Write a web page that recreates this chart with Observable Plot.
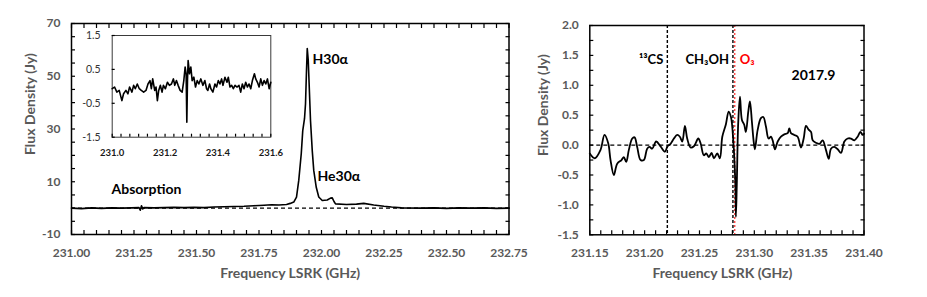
<!DOCTYPE html>
<html>
<head>
<meta charset="utf-8">
<script src="https://cdn.jsdelivr.net/npm/d3@7"></script>
<script src="https://cdn.jsdelivr.net/npm/@observablehq/plot@0.6"></script>
<style>
  body { margin: 0; background: #fff; }
  #wrap { position: relative; width: 927px; height: 297px; background: #fff; overflow: hidden; }
  #wrap > svg { position: absolute; }
</style>
</head>
<body>
<div id="wrap"></div>
<script>
// ---------------- data ----------------
// Left panel: full spectrum [frequency GHz, flux Jy]
const mainSpectrum = [
  [231.00, 0.0], [231.04, -0.2], [231.08, 0.1], [231.12, -0.1], [231.16, 0.1], [231.20, 0.0],
  [231.24, 0.1], [231.27, 0.2], [231.275, -0.8], [231.28, 0.9], [231.285, -0.3], [231.29, 0.2],
  [231.33, 0.1], [231.37, 0.2], [231.41, 0.3], [231.45, 0.2], [231.49, 0.3], [231.53, 0.2],
  [231.57, 0.4], [231.61, 0.5], [231.65, 0.6], [231.69, 0.7], [231.73, 0.9], [231.77, 1.1],
  [231.80, 1.3], [231.83, 1.2], [231.86, 1.4], [231.875, 1.8], [231.889, 2.3], [231.900, 4.2],
  [231.909, 10.5], [231.919, 20.6], [231.925, 29.4], [231.932, 33.9], [231.936, 39.5],
  [231.940, 52.2], [231.943, 60.5], [231.947, 56.0], [231.951, 45.9], [231.956, 33.2],
  [231.963, 21.8], [231.969, 14.3], [231.979, 7.9], [231.989, 4.2], [232.003, 2.9],
  [232.023, 3.1], [232.036, 3.8], [232.043, 3.9], [232.050, 2.5], [232.056, 1.6],
  [232.10, 1.4], [232.14, 1.5], [232.169, 1.8], [232.209, 1.2], [232.25, 0.7], [232.28, 0.4],
  [232.32, 0.1], [232.40, 0.0], [232.45, 0.1], [232.50, -0.1], [232.55, 0.1], [232.60, 0.0],
  [232.65, 0.1], [232.70, -0.1], [232.75, 0.0]
];

// Inset: 231.0 - 231.6 GHz
const insetSpectrum = [
  [231.000,-0.07],[231.0089,-0.02],[231.0177,-0.17],[231.0266,-0.12],[231.0367,-0.42],[231.0430,-0.22],
  [231.0519,-0.12],[231.0595,-0.22],[231.0658,-0.02],[231.0747,-0.17],[231.0810,0.03],[231.0873,-0.07],
  [231.0949,0.07],[231.1025,-0.07],[231.1101,-0.12],[231.1190,-0.17],[231.1278,-0.12],[231.1354,0.07],
  [231.1430,0.17],[231.1481,-0.07],[231.1532,0.22],[231.1608,-0.12],[231.1658,-0.02],[231.1709,-0.42],
  [231.1759,-0.12],[231.1823,0.03],[231.1886,-0.17],[231.1937,0.03],[231.2013,-0.07],[231.2089,0.12],
  [231.2165,0.03],[231.2241,0.07],[231.2316,0.22],[231.2367,0.03],[231.2430,0.17],[231.2494,0.03],
  [231.2570,-0.12],[231.2646,-0.17],[231.2709,0.17],[231.2759,0.57],[231.2797,0.37],[231.2823,-1.06],
  [231.2848,0.17],[231.2873,0.76],[231.2924,0.37],[231.2975,0.57],[231.3025,0.17],[231.3089,0.27],
  [231.3152,-0.02],[231.3215,0.17],[231.3278,0.07],[231.3354,0.22],[231.3430,0.03],[231.3506,0.17],
  [231.3570,-0.07],[231.3620,-0.12],[231.3684,0.07],[231.3734,-0.07],[231.3810,-0.17],[231.3886,0.07],
  [231.3949,-0.02],[231.4013,0.17],[231.4076,0.07],[231.4139,0.22],[231.4190,0.03],[231.4266,0.27],
  [231.4342,0.12],[231.4392,0.27],[231.4456,-0.02],[231.4519,0.03],[231.4582,-0.07],[231.4646,0.03],
  [231.4722,-0.02],[231.4797,0.03],[231.4861,-0.17],[231.4924,0.07],[231.4987,-0.07],[231.5051,0.12],
  [231.5114,-0.02],[231.5177,0.07],[231.5241,-0.07],[231.5304,0.17],[231.5380,0.37],[231.5430,0.22],
  [231.5494,0.12],[231.5557,-0.02],[231.5620,0.22],[231.5684,0.03],[231.5747,0.17],[231.5810,0.07],
  [231.5873,0.22],[231.5937,-0.07],[231.6000,0.12]
];

// Right panel: 231.15 - 231.40 GHz
const zoomSpectrum = [
  [231.1500,-0.14],[231.1546,-0.22],[231.1598,-0.08],[231.1634,0.17],[231.1668,0.03],[231.1689,-0.25],
  [231.1719,-0.50],[231.1750,-0.31],[231.1789,-0.25],[231.1810,-0.20],[231.1832,-0.28],[231.1856,-0.08],
  [231.1887,0.11],[231.1908,0.13],[231.1932,-0.03],[231.1963,-0.25],[231.1993,-0.25],[231.2023,-0.06],
  [231.2045,-0.03],[231.2069,-0.06],[231.2105,0.06],[231.2145,-0.02],[231.2185,-0.11],[231.2209,-0.02],
  [231.2236,0.02],[231.2267,0.11],[231.2297,0.17],[231.2321,0.14],[231.2343,0.06],[231.2367,0.32],
  [231.2388,0.11],[231.2419,-0.04],[231.2449,-0.02],[231.2489,0.11],[231.2510,0.03],[231.2540,-0.17],
  [231.2562,-0.14],[231.2586,-0.20],[231.2610,-0.13],[231.2632,-0.22],[231.2662,-0.14],[231.2686,-0.22],
  [231.2708,0.14],[231.2741,0.35],[231.2766,0.56],[231.2787,0.47],[231.2808,0.08],[231.2826,-0.59],
  [231.2832,-1.20],[231.2841,-0.59],[231.2853,0.36],[231.2869,0.81],[231.2887,0.42],[231.2908,0.34],
  [231.2923,0.22],[231.2945,0.56],[231.2960,0.73],[231.2978,0.39],[231.2993,0.08],[231.3005,-0.07],
  [231.3030,0.25],[231.3060,0.45],[231.3082,0.47],[231.3106,0.31],[231.3130,0.11],[231.3152,0.14],
  [231.3167,0.08],[231.3188,-0.07],[231.3213,0.06],[231.3243,0.14],[231.3273,0.18],[231.3304,0.20],
  [231.3319,0.28],[231.3334,0.20],[231.3364,0.17],[231.3395,0.14],[231.3425,-0.04],[231.3450,0.11],
  [231.3471,0.32],[231.3495,0.26],[231.3517,0.22],[231.3532,0.08],[231.3562,0.04],[231.3593,0.02],
  [231.3623,0.08],[231.3653,-0.08],[231.3678,-0.23],[231.3699,-0.06],[231.3729,-0.03],[231.3760,-0.07],
  [231.3790,-0.13],[231.3821,0.06],[231.3851,0.11],[231.3881,0.11],[231.3912,0.08],[231.3942,0.14],
  [231.3967,0.22],[231.3988,0.17],[231.4000,0.19]
];

// Line identifications (right panel)
const lineIds = [
  {freq: 231.2207, name: "¹³CS", color: "black", side: "left"},
  {freq: 231.2805, name: "CH₃OH", color: "black", side: "left"},
  {freq: 231.2822, name: "O₃", color: "red", side: "right"}
];

// Tick labels
const leftXTicks = [231.00, 231.25, 231.50, 231.75, 232.00, 232.25, 232.50, 232.75];
const leftYTicks = [-10, 10, 30, 50, 70];
const insetXTicks = [231.0, 231.2, 231.4, 231.6];
const insetYTicks = [-1.5, -0.5, 0.5, 1.5];
const rightXTicks = [231.15, 231.20, 231.25, 231.30, 231.35, 231.40];
const rightYTicks = [-1.5, -1.0, -0.5, 0.0, 0.5, 1.0, 1.5, 2.0];

// ---------------- helpers ----------------
const FONT = "Lato, 'Noto Sans', sans-serif";
const GRAY = "#595959";
const range = (a, b, step) => d3.range(0, Math.round((b - a) / step) + 1).map(i => +(a + i * step).toFixed(6));

function inTicksX(values, anchor, size = 4) {
  return Plot.axisX(values, {anchor, tickSize: -size, tickFormat: () => "", label: null, stroke: "black", strokeWidth: 1.2});
}
function inTicksY(values, anchor, size = 4) {
  return Plot.axisY(values, {anchor, tickSize: -size, tickFormat: () => "", label: null, stroke: "black", strokeWidth: 1.2});
}
const toObj = arr => arr.map(([f, v]) => ({f, v}));
const annot = {fill: "black", fontWeight: "bold", fontSize: 14, textAnchor: "start", lineAnchor: "middle"};
const title = {fill: GRAY, fontWeight: "bold", fontSize: 14, textAnchor: "middle", lineAnchor: "middle"};

const wrap = document.getElementById("wrap");
function place(svg, left, top) {
  svg.style.left = left + "px";
  svg.style.top = top + "px";
  wrap.appendChild(svg);
}

// ---------------- left panel ----------------
const leftPlot = Plot.plot({
  width: 520, height: 297,
  marginLeft: 71, marginRight: 11.5, marginTop: 23, marginBottom: 63,
  x: {domain: [231.0, 232.75]},
  y: {domain: [-10, 70]},
  style: {fontFamily: FONT, background: "transparent", overflow: "visible"},
  marks: [
    Plot.ruleY([0], {stroke: "black", strokeWidth: 1.2, strokeDasharray: "4,3"}),
    Plot.line(toObj(mainSpectrum), {x: "f", y: "v", stroke: "black", strokeWidth: 1.6}),
    Plot.frame({stroke: "black", strokeWidth: 1.5}),
    inTicksX(range(231.0, 232.75, 0.05), "bottom"),
    inTicksX(range(231.0, 232.75, 0.05), "top"),
    inTicksY(range(-10, 70, 5), "left"),
    inTicksY(range(-10, 70, 5), "right"),
    Plot.axisX(leftXTicks, {anchor: "bottom", tickSize: 0, tickPadding: 14, tickFormat: d => d.toFixed(2), fill: GRAY, fontWeight: "bold", fontSize: 12, label: null}),
    Plot.axisY(leftYTicks, {anchor: "left", tickSize: 0, tickPadding: 11, tickFormat: d => String(d), fill: GRAY, fontWeight: "bold", fontSize: 12, label: null}),
    Plot.text(["Flux Density (Jy)"], {frameAnchor: "left", rotate: -90, dx: -41, dy: -25, ...title}),
    Plot.text(["Frequency LSRK (GHz)"], {frameAnchor: "bottom", dy: 39, ...title}),
    Plot.text(["H30α"], {frameAnchor: "top-left", dx: 241, dy: 36, ...annot}),
    Plot.text(["He30α"], {frameAnchor: "top-left", dx: 246, dy: 153, ...annot}),
    Plot.text(["Absorption"], {frameAnchor: "top-left", dx: 40, dy: 166, ...annot})
  ]
});
place(leftPlot, 0, 0);

// ---------------- inset ----------------
const insetPlot = Plot.plot({
  width: 200, height: 135,
  marginLeft: 31.7, marginRight: 9.7, marginTop: 7, marginBottom: 26.3,
  x: {domain: [231.0, 231.6]},
  y: {domain: [-1.5, 1.5]},
  style: {fontFamily: FONT, background: "transparent", overflow: "visible"},
  marks: [
    Plot.frame({stroke: "#3a3a3a", strokeWidth: 1}),
    Plot.line(toObj(insetSpectrum), {x: "f", y: "v", stroke: "black", strokeWidth: 1.6}),
    inTicksX(range(231.0, 231.6, 0.2 / 6), "bottom", 3),
    inTicksY(range(-1.5, 1.5, 1), "left", 3),
    Plot.axisX(insetXTicks, {anchor: "bottom", tickSize: 0, tickPadding: 12, tickFormat: d => d.toFixed(1), fill: "#1a1a1a", fontWeight: "bold", fontSize: 9.5, label: null}),
    Plot.axisY(insetYTicks, {anchor: "left", tickSize: 0, tickPadding: 11.5, tickFormat: d => d.toFixed(1), fill: "#333", fontSize: 10.5, label: null})
  ]
});
place(insetPlot, 80, 28);

// ---------------- right panel ----------------
const rightPlot = Plot.plot({
  width: 407, height: 297,
  marginLeft: 69.3, marginRight: 63.5, marginTop: 25, marginBottom: 62.7,
  x: {domain: [231.15, 231.40]},
  y: {domain: [-1.5, 2.0]},
  style: {fontFamily: FONT, background: "transparent", overflow: "visible"},
  marks: [
    Plot.ruleY([0], {stroke: "black", strokeWidth: 1.3, strokeDasharray: "4,3"}),
    Plot.ruleX(lineIds.filter(d => d.color === "black"), {x: "freq", stroke: "black", strokeWidth: 1.4, strokeDasharray: "3,2"}),
    Plot.ruleX(lineIds.filter(d => d.color === "red"), {x: "freq", stroke: "red", strokeWidth: 1, strokeDasharray: "2,2"}),
    Plot.line(toObj(zoomSpectrum), {x: "f", y: "v", stroke: "black", strokeWidth: 1.8, curve: "catmull-rom"}),
    Plot.frame({stroke: "black", strokeWidth: 1.5}),
    inTicksX(range(231.15, 231.40, 0.01), "bottom"),
    inTicksY(range(-1.5, 2.0, 0.25), "left"),
    inTicksY(range(-1.5, 2.0, 0.25), "right"),
    Plot.axisX(rightXTicks, {anchor: "bottom", tickSize: 0, tickPadding: 14, tickFormat: d => d.toFixed(2), fill: GRAY, fontWeight: "bold", fontSize: 12, label: null}),
    Plot.axisY(rightYTicks, {anchor: "left", tickSize: 0, tickPadding: 11, tickFormat: d => d.toFixed(1), fill: GRAY, fontWeight: "bold", fontSize: 12, label: null}),
    Plot.text(lineIds.filter(d => d.side === "left"), {x: "freq", frameAnchor: "top", dy: 34, dx: -4, text: "name", ...annot, fill: "color", fontSize: 13, textAnchor: "end"}),
    Plot.text(lineIds.filter(d => d.side === "right"), {x: "freq", frameAnchor: "top", dy: 34, dx: 5, text: "name", ...annot, fill: "color", fontSize: 13, textAnchor: "start"}),
    Plot.text(["2017.9"], {frameAnchor: "top-right", dx: -28.5, dy: 50, ...annot, textAnchor: "end"}),
    Plot.text(["Flux Density (Jy)"], {frameAnchor: "left", rotate: -90, dx: -46, dy: -25, ...title}),
    Plot.text(["Frequency LSRK (GHz)"], {frameAnchor: "bottom", dx: -4.5, dy: 39, ...title})
  ]
});
place(rightPlot, 520, 0);
</script>
</body>
</html>
